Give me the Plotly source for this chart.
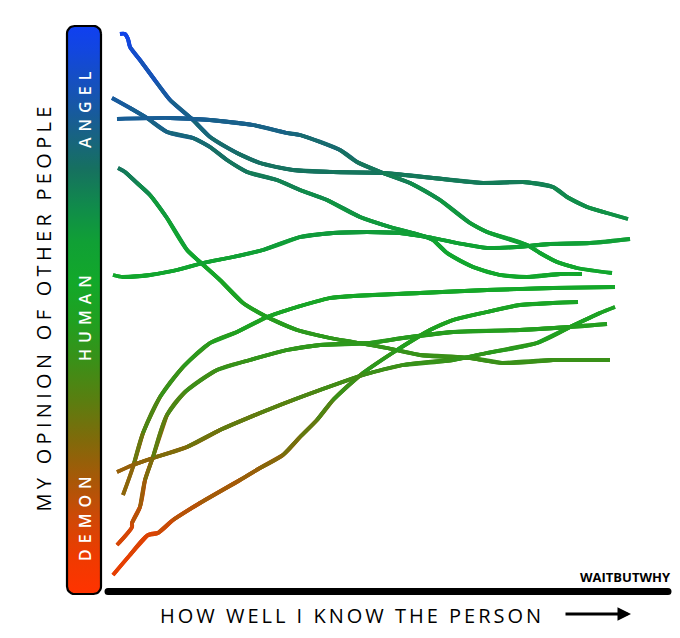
import numpy as np
import plotly.graph_objects as go
from plotly.colors import sample_colorscale

# ---- data: x = how well I know the person, y = my opinion (0 = demon ... 113 = angel)
know_a = [3.0, 4.0, 4.6, 5.0, 7.0, 10.4, 13.0, 17.6, 21.0, 26.4, 31.0, 37.6, 45.6, 55.6, 65.6, 75.6, 83.6, 89.6, 92.4, 96.4, 100.4, 104.6]
opin_a = [111.8, 111.8, 110.8, 109.2, 106.6, 102.0, 98.6, 94.6, 91.2, 88.0, 86.0, 84.6, 84.2, 84.0, 83.0, 82.0, 82.2, 81.2, 79.2, 77.2, 76.0, 74.8]

know_b = [1.4, 5.0, 8.4, 12.4, 17.6, 21.0, 24.4, 28.4, 34.4, 39.0, 44.4, 51.0, 57.0, 63.0, 65.6, 68.4, 73.6, 79.0, 84.4, 91.0, 95.4]
opin_b = [99.0, 97.0, 95.0, 92.2, 91.0, 89.2, 86.6, 84.2, 82.6, 80.6, 78.6, 75.2, 73.2, 71.6, 70.6, 68.0, 65.2, 63.6, 63.2, 63.8, 63.8]

know_c = [2.4, 13.0, 21.0, 29.6, 36.4, 39.0, 47.0, 50.4, 55.6, 61.0, 67.0, 73.0, 76.4, 84.4, 87.0, 90.4, 94.4, 101.4]
opin_c = [94.8, 95.0, 94.6, 93.6, 92.0, 91.6, 88.6, 86.2, 84.0, 82.0, 78.6, 74.0, 72.2, 69.6, 68.0, 66.2, 65.0, 64.0]

know_d = [2.6, 4.0, 6.4, 9.0, 12.4, 16.4, 19.0, 23.0, 27.6, 32.4, 38.4, 45.0, 49.6, 56.4, 63.0, 73.0, 79.6, 89.6, 95.6, 101.0]
opin_d = [85.0, 84.2, 82.0, 79.6, 75.0, 68.6, 66.2, 62.6, 58.0, 55.2, 52.6, 51.0, 50.2, 49.0, 47.6, 47.0, 46.0, 46.6, 46.6, 46.6]

know_e = [1.6, 3.6, 9.0, 14.4, 19.6, 25.6, 31.6, 39.0, 45.6, 52.4, 59.0, 65.6, 70.4, 76.4, 82.4, 89.0, 97.0, 105.0]
opin_e = [63.6, 63.2, 63.6, 64.6, 66.0, 67.2, 68.6, 71.2, 72.0, 72.2, 72.0, 71.0, 70.0, 69.0, 69.2, 69.8, 70.0, 70.8]

know_g = [3.6, 5.6, 7.6, 11.0, 15.6, 21.0, 26.4, 32.4, 38.4, 45.0, 49.6, 63.0, 76.4, 89.6, 102.0]
opin_g = [19.6, 25.2, 32.0, 39.2, 45.2, 50.0, 52.2, 55.2, 57.2, 59.0, 59.4, 60.0, 60.6, 61.0, 61.2]

know_h = [1.6, 5.0, 8.6, 10.6, 13.6, 19.0, 27.0, 31.0, 35.6, 39.0, 42.4, 45.6, 51.6, 58.4, 65.0, 69.6, 76.4, 83.0, 89.6, 94.6]
opin_h = [3.6, 7.6, 11.6, 12.0, 14.6, 18.0, 22.6, 25.0, 27.6, 31.2, 34.6, 38.6, 44.0, 48.6, 52.6, 54.6, 56.2, 57.6, 58.0, 58.2]

know_i = [2.4, 5.6, 9.6, 16.4, 23.0, 31.0, 37.6, 43.0, 51.6, 59.6, 69.6, 76.4, 86.4, 93.0, 99.0, 102.0]
opin_i = [24.2, 25.6, 27.0, 29.2, 32.6, 36.0, 38.6, 40.6, 43.6, 45.6, 46.6, 48.0, 50.0, 53.2, 56.0, 57.2]

know_j = [2.4, 5.4, 5.4, 7.0, 8.0, 9.6, 12.4, 16.0, 22.4, 29.0, 36.4, 43.0, 53.0, 59.6, 69.6, 83.0, 93.0, 100.4]
opin_j = [9.6, 13.2, 14.0, 17.2, 22.6, 27.2, 35.6, 40.2, 44.6, 46.6, 48.6, 49.6, 50.0, 51.0, 52.2, 52.6, 53.2, 53.8]

LINES = [(know_a, opin_a), (know_b, opin_b), (know_c, opin_c), (know_d, opin_d),
         (know_e, opin_e), (know_g, opin_g), (know_h, opin_h), (know_i, opin_i),
         (know_j, opin_j)]

OPINION_MAX = 113.2
SCALE_LABELS = ["DEMON", "HUMAN", "ANGEL"]
SCALE_LABEL_POS = [15.4, 55.6, 97.2]
Y_TITLE = "MY OPINION OF OTHER PEOPLE"
X_TITLE = "HOW WELL I KNOW THE PERSON"
CREDIT = "WAITBUTWHY"

CS = [[0.0, '#ff3300'], [0.06, '#f03a00'], [0.13, '#d04806'], [0.2, '#a85808'],
      [0.27, '#806a0a'], [0.34, '#5a7e10'], [0.41, '#3a9018'], [0.48, '#20a020'],
      [0.55, '#12a82a'], [0.62, '#10a035'], [0.68, '#108c4a'], [0.75, '#167060'],
      [0.82, '#18608a'], [0.89, '#1652b8'], [0.96, '#1246e0'], [1.0, '#1040f0']]

FONT = "Open Sans"

fig = go.Figure()

# colour bar (rounded rectangle with vertical gradient)
x0, x1, y0, y1, r = -7.6, -0.8, -0.2, 113.4, 1.5
pts = []
for cx, cy, a0 in [(x1 - r, y1 - r, 0), (x0 + r, y1 - r, 90), (x0 + r, y0 + r, 180), (x1 - r, y0 + r, 270)]:
    for a in np.linspace(a0, a0 + 90, 8):
        pts.append((cx + r * np.cos(np.radians(a)), cy + r * np.sin(np.radians(a))))
pts.append(pts[0])
fig.add_trace(go.Scatter(
    x=[p[0] for p in pts], y=[p[1] for p in pts], mode="lines", fill="toself",
    fillgradient=dict(type="vertical", colorscale=CS, start=0, stop=OPINION_MAX),
    line=dict(color="black", width=2.2), hoverinfo="skip", showlegend=False))

# opinion lines, coloured by opinion level
for kx, oy in LINES:
    n = len(kx)
    for i in range(n - 1):
        sl = slice(max(i - 1, 0), min(i + 3, n))
        mid = (oy[i] + oy[i + 1]) / 2.0
        col = sample_colorscale(CS, [min(max(mid / OPINION_MAX, 0), 1)])[0]
        fig.add_trace(go.Scatter(
            x=kx[sl], y=oy[sl], mode="lines",
            line=dict(color=col, width=3.8, shape="spline", smoothing=0.8),
            hoverinfo="skip", showlegend=False))

# x axis baseline
fig.add_shape(type="line", x0=0.6, x1=112.6, y0=0.3, y1=0.3,
              line=dict(color="black", width=7))
for xe in [0.6, 112.6]:
    fig.add_shape(type="circle", x0=xe - 0.7, x1=xe + 0.7, y0=0.3 - 0.7, y1=0.3 + 0.7,
                  fillcolor="black", line=dict(width=0))

def spaced(t, px):
    return '<span style="letter-spacing:%spx">%s</span>' % (px, t)

ann = []
ann.append(dict(x=-12.5, y=57.2, text=spaced(Y_TITLE, 4.3), textangle=-90, showarrow=False,
                font=dict(family=FONT, size=20, color="black")))
for lab, yy in zip(SCALE_LABELS, SCALE_LABEL_POS):
    ann.append(dict(x=-4.0, y=yy, text=spaced(lab, 6), textangle=-90, showarrow=False,
                    font=dict(family=FONT, size=16, color="white", weight=600)))
ann.append(dict(x=49.4, y=-4.4, text=spaced(X_TITLE, 3), showarrow=False,
                font=dict(family=FONT, size=20, color="black")))
ann.append(dict(x=105.2, y=-4.2, ax=91.8, ay=-4.2, axref="x", ayref="y", text="",
                showarrow=True, arrowhead=2, arrowsize=0.9, arrowwidth=3, arrowcolor="black"))
ann.append(dict(x=104.0, y=3.2, text="<b>%s</b>" % CREDIT, showarrow=False,
                font=dict(family=FONT, size=13, color="black")))

# page has an 8px body margin, so the figure is 8px smaller and shifted
fig.update_layout(
    width=672, height=630, margin=dict(l=0, r=0, t=0, b=0),
    paper_bgcolor="white", plot_bgcolor="white",
    xaxis=dict(range=[-19.4, 115], visible=False, fixedrange=True, domain=[0, 1]),
    yaxis=dict(range=[-9, 117], visible=False, fixedrange=True, domain=[0, 1]),
    annotations=ann, showlegend=False,
)

fig.write_html("out.html")
